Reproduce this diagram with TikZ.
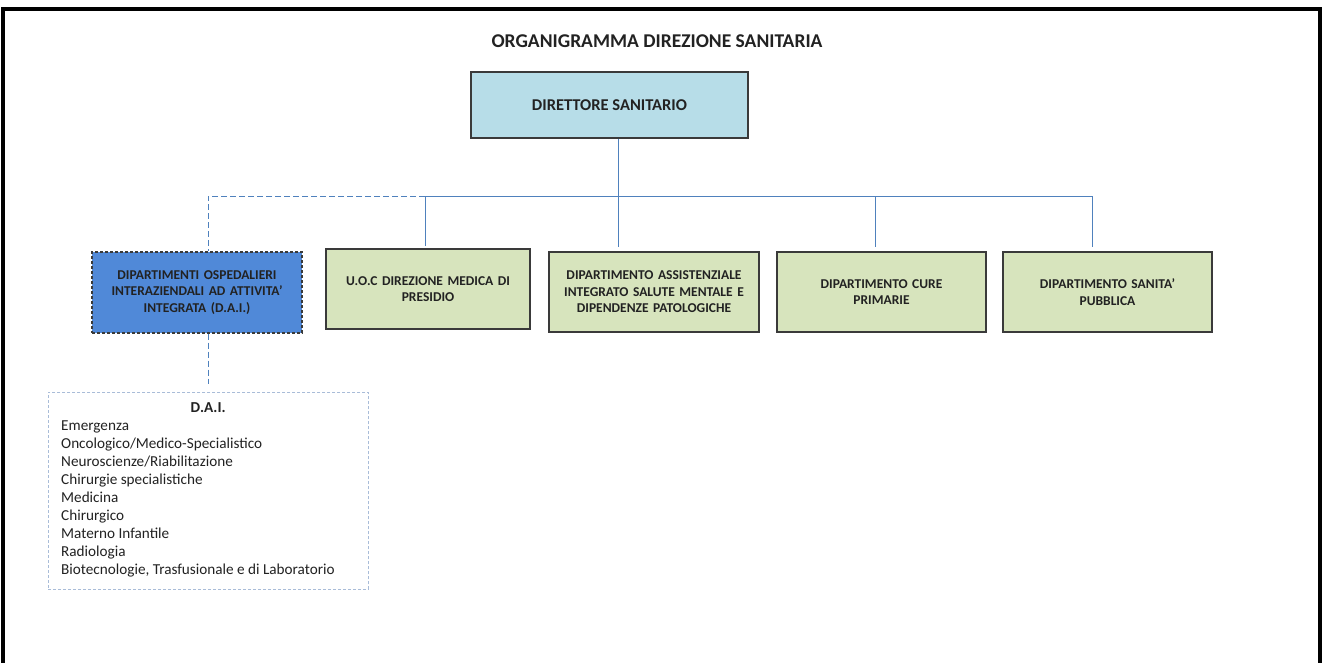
\documentclass[tikz,border=0pt]{standalone}
\usepackage{fontspec}
\setmainfont{Carlito}
\usetikzlibrary{calc}
\definecolor{linkblue}{HTML}{4F81BD}
\definecolor{dirfill}{HTML}{B7DDE8}
\definecolor{greenfill}{HTML}{D7E4BD}
\definecolor{daifill}{HTML}{5089D8}
\definecolor{listedge}{HTML}{A9BCD8}
\definecolor{boxedge}{HTML}{3A3A3A}
\definecolor{txt}{HTML}{222222}
\tikzset{
  unitbox/.style={draw=boxedge, line width=1.2pt, fill=greenfill, minimum width=209pt, minimum height=80pt,
    text width=200pt, align=center, font=\fontsize{13.5}{16.5}\selectfont\bfseries, text=txt, inner sep=0pt},
  link/.style={draw=linkblue, line width=1pt},
  dlink/.style={draw=linkblue, line width=1pt, dash pattern=on 6pt off 3pt},
}
\begin{document}
\begin{tikzpicture}[x=1pt,y=-1pt]
\useasboundingbox (0,0) rectangle (1325,662);
\fill[white] (0,0) rectangle (1325,662);
\begin{scope}
\clip (0,0) rectangle (1325,662);
\draw[line width=4.5pt] (3,680) -- (3,9) -- (1320,9) -- (1320,680);
\end{scope}
\node[font=\fontsize{19.5}{22}\selectfont\bfseries, text=txt] (title) at (657,41) {ORGANIGRAMMA DIREZIONE SANITARIA};
\node[draw=boxedge, line width=1.2pt, fill=dirfill, minimum width=277pt, minimum height=66pt,
  font=\fontsize{16.5}{19}\selectfont\bfseries, text=txt] (dir) at (609.5,105) {DIRETTORE SANITARIO};
\node[unitbox, fill=daifill, dash pattern=on 3pt off 2pt, minimum width=210pt, minimum height=81pt] (dai) at (197,292.5)
  {DIPARTIMENTI OSPEDALIERI\\INTERAZIENDALI AD ATTIVITA'\\INTEGRATA (D.A.I.)};
\node[unitbox, minimum width=204pt] (uoc) at (428,289) {U.O.C DIREZIONE MEDICA DI\\PRESIDIO};
\node[unitbox, minimum width=210pt] (dasm) at (654,292) {DIPARTIMENTO ASSISTENZIALE\\INTEGRATO SALUTE MENTALE E\\DIPENDENZE PATOLOGICHE};
\node[unitbox] (dcp) at (881.5,292) {DIPARTIMENTO CURE\\PRIMARIE};
\node[unitbox] (dsp) at (1107.5,292) {DIPARTIMENTO SANITA'\\PUBBLICA};
\node[draw=listedge, line width=0.8pt, dash pattern=on 3pt off 2pt, minimum width=320pt, minimum height=197pt,
  anchor=north west, inner sep=0pt] (list) at (48,392) {};
\node[anchor=north west, align=left, text=txt, inner sep=0pt,
  font=\fontsize{15.2}{18}\selectfont] (listtxt) at (61,402)
  {\makebox[294pt]{\bfseries D.A.I.}\\Emergenza\\Oncologico/Medico-Specialistico\\Neuroscienze/Riabilitazione\\Chirurgie specialistiche\\Medicina\\Chirurgico\\Materno Infantile\\Radiologia\\Biotecnologie, Trasfusionale e di Laboratorio};
\coordinate (bdir) at (618,196);
\coordinate (b1) at (425,196);
\coordinate (b2) at (618,196);
\coordinate (b3) at (875,196);
\coordinate (b4) at (1092,196);
\coordinate (b0) at (208,196);
\draw[link] (dir.south -| bdir) -- (bdir);
\draw[link] (b1) -- (b4);
\draw[link] (b1) -- ($(b1 |- uoc.north)+(0,-2)$);
\draw[link] (b2) -- ($(b2 |- dasm.north)+(0,-4)$);
\draw[link] (b3) -- ($(b3 |- dcp.north)+(0,-4)$);
\draw[link] (b4) -- ($(b4 |- dsp.north)+(0,-4)$);
\draw[dlink] (b1) -- (b0) -- (b0 |- dai.north);
\draw[dlink] (b0 |- dai.south) -- ($(b0 |- list.north)+(0,-8)$);
\end{tikzpicture}
\end{document}
